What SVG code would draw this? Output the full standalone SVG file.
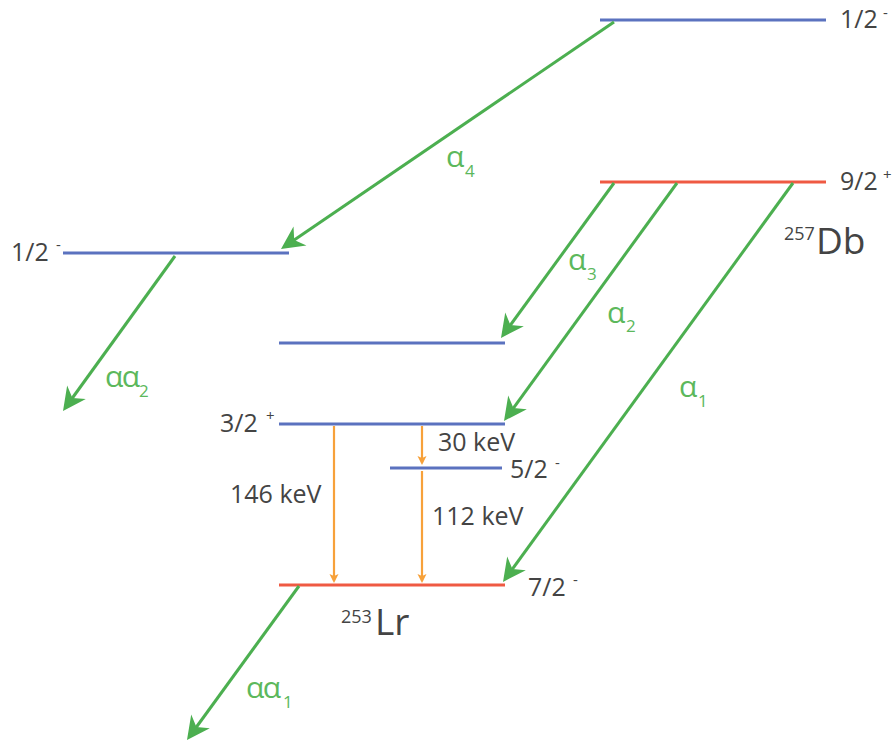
<svg xmlns="http://www.w3.org/2000/svg" width="893" height="742" viewBox="0 0 893 742">
<style>
.lvB{stroke:#5b72bf;stroke-width:3;fill:none}
.lvR{stroke:#ef5a43;stroke-width:3;fill:none}
.ga{stroke:#4caf50;stroke-width:3;fill:none;marker-end:url(#gh)}
.oa{stroke:#f7a13a;stroke-width:2.2;fill:none;marker-end:url(#oh)}
.t{font-family:"Open Sans","Liberation Sans",sans-serif;fill:#444;font-size:25px}
.sup{font-family:"Open Sans","Liberation Sans",sans-serif;fill:#444;font-size:15px}
.iso{font-family:"Open Sans","Liberation Sans",sans-serif;fill:#444;font-size:37px}
.isn{font-family:"Open Sans","Liberation Sans",sans-serif;fill:#444;font-size:18px}
.g{font-family:"Open Sans","Liberation Sans",sans-serif;fill:#5cb85c;font-size:30px}
.gs{font-family:"Open Sans","Liberation Sans",sans-serif;fill:#5cb85c;font-size:17px}
</style>
<defs>
<marker id="gh" markerUnits="userSpaceOnUse" viewBox="-26 -13 28 26" refX="-8" refY="0" markerWidth="28" markerHeight="26" orient="auto">
<path d="M0,0 L-23,-11.5 L-16,0 L-23,11.5 Z" fill="#4caf50"/>
</marker>
<marker id="oh" markerUnits="userSpaceOnUse" viewBox="-10 -5 11 10" refX="-2" refY="0" markerWidth="11" markerHeight="10" orient="auto">
<path d="M0,0 L-9,-4.5 L-7,0 L-9,4.5 Z" fill="#f7a13a"/>
</marker>
</defs>

<g id="level-db-1-2">
<line class="lvB" x1="600" y1="20" x2="826" y2="20"/>
<text class="t" x="840" y="28">1/2</text><text class="sup" x="883" y="18">-</text>
</g>
<g id="level-db-9-2">
<line class="lvR" x1="600" y1="182" x2="826" y2="182"/>
<text class="t" x="840" y="190">9/2</text><text class="sup" x="883" y="180">+</text>
<text class="isn" x="784" y="240">257</text><text class="iso" x="816" y="254">Db</text>
</g>
<g id="level-left-1-2">
<line class="lvB" x1="63" y1="253" x2="289" y2="253"/>
<text class="t" x="11" y="261">1/2</text><text class="sup" x="56" y="250">-</text>
</g>
<g id="level-mid">
<line class="lvB" x1="279" y1="343" x2="505" y2="343"/>
</g>
<g id="level-3-2">
<line class="lvB" x1="279" y1="424" x2="505" y2="424"/>
<text class="t" x="220" y="432">3/2</text><text class="sup" x="266" y="421">+</text>
</g>
<g id="level-5-2">
<line class="lvB" x1="390" y1="468" x2="502" y2="468"/>
<text class="t" x="510" y="478">5/2</text><text class="sup" x="555" y="468">-</text>
</g>
<g id="level-lr-7-2">
<line class="lvR" x1="279" y1="585" x2="505" y2="585"/>
<text class="t" x="528" y="596">7/2</text><text class="sup" x="573" y="585">-</text>
<text class="isn" x="341" y="623">253</text><text class="iso" x="375" y="635">Lr</text>
</g>

<g id="connectors">
<line class="ga" x1="614" y1="22" x2="287.6" y2="244.5"/>
<line class="ga" x1="614" y1="183" x2="505.7" y2="331.5"/>
<line class="ga" x1="677" y1="183" x2="508.7" y2="414.5"/>
<line class="ga" x1="793" y1="183" x2="507.7" y2="575.5"/>
<line class="ga" x1="175" y1="256" x2="67.7" y2="404.5"/>
<line class="ga" x1="299" y1="586" x2="191.7" y2="733.5"/>
<line class="oa" x1="334" y1="426" x2="334" y2="581"/>
<line class="oa" x1="422" y1="426" x2="422" y2="463"/>
<line class="oa" x1="422" y1="471" x2="422" y2="581"/>
</g>

<g id="labels">
<text class="g" x="446" y="167">α</text><text class="gs" x="465" y="177">4</text>
<text class="g" x="568" y="270">α</text><text class="gs" x="587" y="280">3</text>
<text class="g" x="607" y="323">α</text><text class="gs" x="626" y="332">2</text>
<text class="g" x="679" y="397">α</text><text class="gs" x="698" y="407">1</text>
<text class="g" x="105" y="387" letter-spacing="-1.5">αα</text><text class="gs" x="139" y="397">2</text>
<text class="g" x="246" y="698" letter-spacing="-1.5">αα</text><text class="gs" x="283" y="708">1</text>
<text class="t" x="438" y="451">30 keV</text>
<text class="t" x="230" y="503">146 keV</text>
<text class="t" x="432" y="525">112 keV</text>
</g>
</svg>
